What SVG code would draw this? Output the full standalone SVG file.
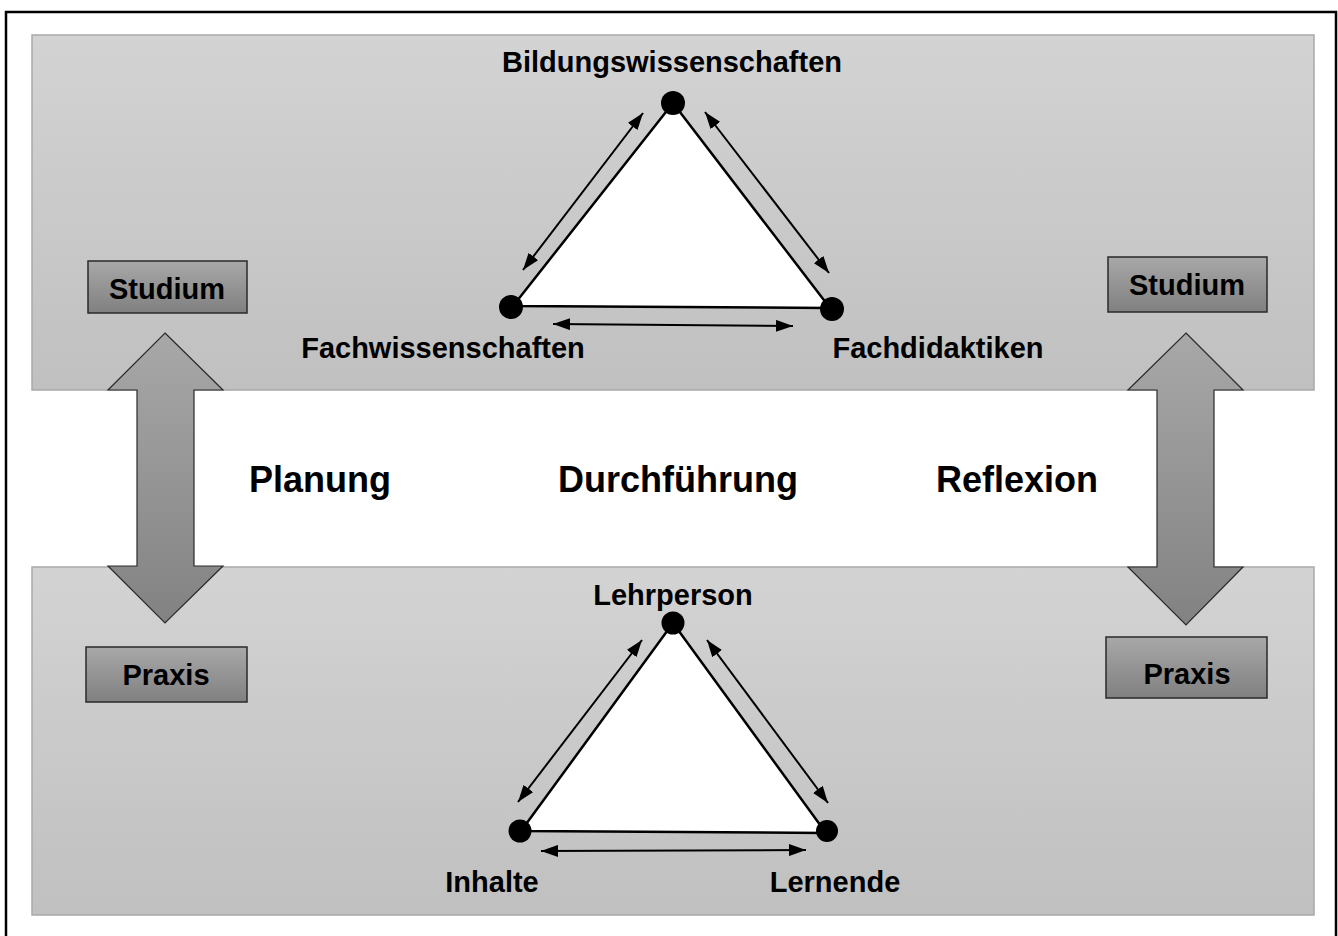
<svg xmlns="http://www.w3.org/2000/svg" width="1338" height="936" viewBox="0 0 1338 936">
<style>
text{font-family:"Liberation Sans",Arial,sans-serif;font-weight:bold;fill:#000}
.lbl{font-size:29px}
.big{font-size:36px}
.panel{stroke:#a9a9a9;stroke-width:1.5}
.box{fill:url(#gBox);stroke:#2a2a2a;stroke-width:1.5}
.barrow{fill:url(#gArrow);stroke:#2a2a2a;stroke-width:1.2}
.tri{fill:#fff;stroke:#000;stroke-width:2.5;stroke-linejoin:round}
.dot{fill:#000}
.conn{stroke:#000;stroke-width:2;fill:none;marker-start:url(#ah);marker-end:url(#ah)}
</style>
<defs>
<linearGradient id="gPanel" x1="0" y1="0" x2="0" y2="1">
<stop offset="0" stop-color="#d3d3d3"/><stop offset="1" stop-color="#c0c0c0"/>
</linearGradient>
<linearGradient id="gBox" x1="0" y1="0" x2="0" y2="1">
<stop offset="0" stop-color="#a8a8a8"/><stop offset="1" stop-color="#808080"/>
</linearGradient>
<linearGradient id="gArrow" x1="0" y1="0" x2="0" y2="1">
<stop offset="0" stop-color="#a8a8a8"/><stop offset="1" stop-color="#828282"/>
</linearGradient>
<marker id="ah" viewBox="0 0 17 12" refX="17" refY="6" markerWidth="17" markerHeight="12" markerUnits="userSpaceOnUse" orient="auto-start-reverse">
<path d="M0,0 L17,6 L0,12 z" fill="#000"/>
</marker>
</defs>
<rect width="1338" height="936" fill="#fff"/>
<rect id="frame" x="6" y="12" width="1330" height="940" fill="none" stroke="#000" stroke-width="2.5"/>
<g id="panel-top"><rect class="panel" x="32" y="35" width="1282" height="355" fill="url(#gPanel)"/></g>
<g id="panel-bottom"><rect class="panel" x="32" y="567" width="1282" height="348" fill="url(#gPanel)"/></g>

<g id="arrow-left"><path class="barrow" d="M165,333 L223,390 L194,390 L194,566 L223,566 L165,623 L108,566 L137,566 L137,390 L108,390 Z"/></g>
<g id="arrow-right"><path class="barrow" d="M1186,333 L1243,390 L1214,390 L1214,567 L1243,567 L1186,625 L1128,567 L1157,567 L1157,390 L1128,390 Z"/></g>

<g id="studium-left"><rect class="box" x="88" y="261" width="159" height="52"/><text class="lbl" x="167" y="299" text-anchor="middle">Studium</text></g>
<g id="praxis-left"><rect class="box" x="86" y="647" width="161" height="55"/><text class="lbl" x="166" y="685" text-anchor="middle">Praxis</text></g>
<g id="studium-right"><rect class="box" x="1108" y="257" width="159" height="55"/><text class="lbl" x="1187" y="295" text-anchor="middle">Studium</text></g>
<g id="praxis-right"><rect class="box" x="1106" y="637" width="161" height="61"/><text class="lbl" x="1187" y="684" text-anchor="middle">Praxis</text></g>

<g id="triangle-top">
<polygon class="tri" points="673,103 513,306 830,308"/>
<circle class="dot" cx="673" cy="103" r="12"/>
<circle class="dot" cx="511" cy="307" r="12"/>
<circle class="dot" cx="832" cy="309" r="12"/>
</g>
<g id="triangle-bottom">
<polygon class="tri" points="673,623 521,831 826,833"/>
<circle class="dot" cx="673" cy="623" r="11.5"/>
<circle class="dot" cx="520" cy="831" r="11.5"/>
<circle class="dot" cx="827" cy="831" r="11"/>
</g>

<g id="connectors">
<line class="conn" x1="523" y1="270" x2="643" y2="113"/>
<line class="conn" x1="705" y1="112" x2="829" y2="273"/>
<line class="conn" x1="553" y1="324" x2="793" y2="326"/>
<line class="conn" x1="518" y1="802" x2="642" y2="640"/>
<line class="conn" x1="707" y1="640" x2="828" y2="803"/>
<line class="conn" x1="541" y1="851" x2="806" y2="850"/>
</g>

<g id="labels-top">
<text class="lbl" x="672" y="72" text-anchor="middle">Bildungswissenschaften</text>
<text class="lbl" x="443" y="358" text-anchor="middle">Fachwissenschaften</text>
<text class="lbl" x="938" y="358" text-anchor="middle">Fachdidaktiken</text>
</g>
<g id="labels-middle">
<text class="big" x="320" y="492" text-anchor="middle">Planung</text>
<text class="big" x="678" y="492" text-anchor="middle">Durchführung</text>
<text class="big" x="1017" y="492" text-anchor="middle">Reflexion</text>
</g>
<g id="labels-bottom">
<text class="lbl" x="673" y="605" text-anchor="middle">Lehrperson</text>
<text class="lbl" x="492" y="892" text-anchor="middle">Inhalte</text>
<text class="lbl" x="835" y="892" text-anchor="middle">Lernende</text>
</g>
</svg>
